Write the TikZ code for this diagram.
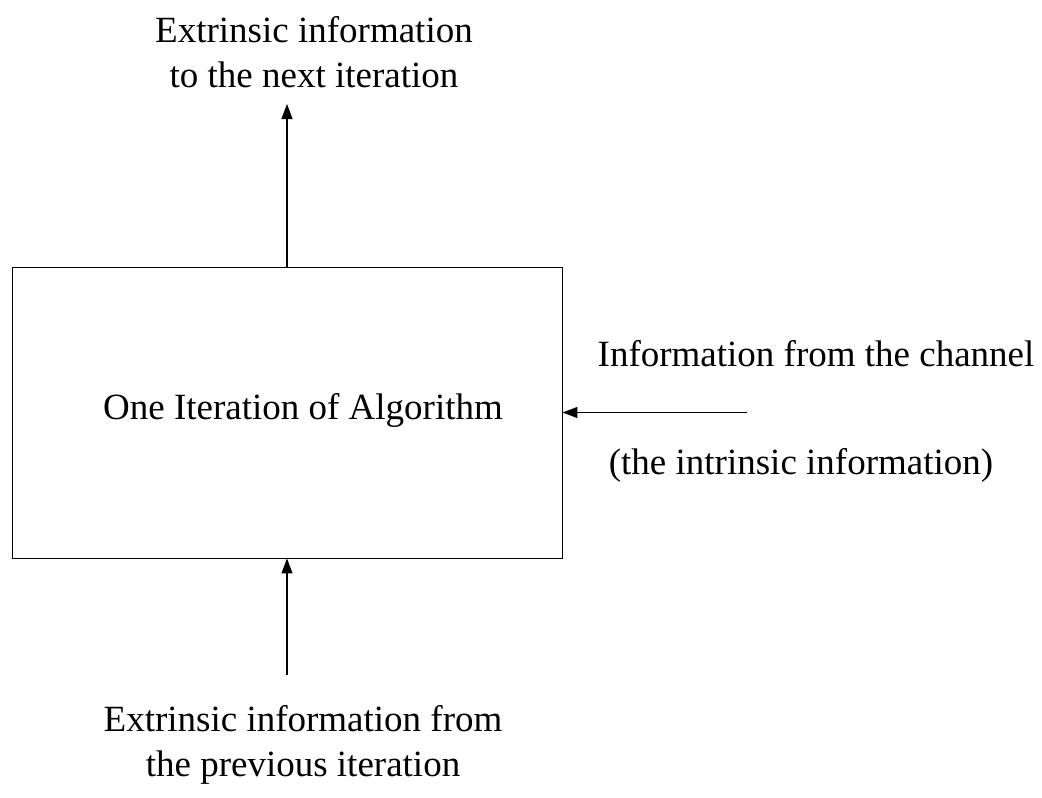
\documentclass[tikz,border=0pt]{standalone}
\usepackage{fontspec}
\setmainfont{Liberation Serif}
\usetikzlibrary{arrows.meta}
\begin{document}
\begin{tikzpicture}[x=1pt,y=-1pt,
  txt/.style={font=\fontsize{37}{45}\selectfont, align=center, inner sep=0pt},
  flow/.style={-{Triangle[length=15pt,width=11pt]}, line width=1.1pt},
  block/.style={draw, line width=0.9pt, minimum width=550pt, minimum height=291pt, inner sep=0pt}]
\useasboundingbox (0,0) rectangle (1042,798);

% the iteration block
\node[block] (alg) at (287,412.5) {};
\node[txt] (algtxt) at (303,410) {One Iteration of Algorithm};

% output to the next iteration
\coordinate (topend) at (287,104);
\draw[flow] (alg.north) -- (topend);
\node[txt] (toptxt) at (314,52) {Extrinsic information\\to the next iteration};

% channel input
\coordinate (chin) at (747,412.5);
\draw[flow] (chin) -- (alg.east);
\node[txt] (chan1) at (816,354) {Information from the channel};
\node[txt] (chan2) at (801,465) {(the intrinsic information)};

% input from the previous iteration
\coordinate (botstart) at (287,675);
\draw[flow] (botstart) -- (alg.south);
\node[txt] (bottxt) at (303,745) {Extrinsic information from\\the previous iteration};
\end{tikzpicture}
\end{document}
